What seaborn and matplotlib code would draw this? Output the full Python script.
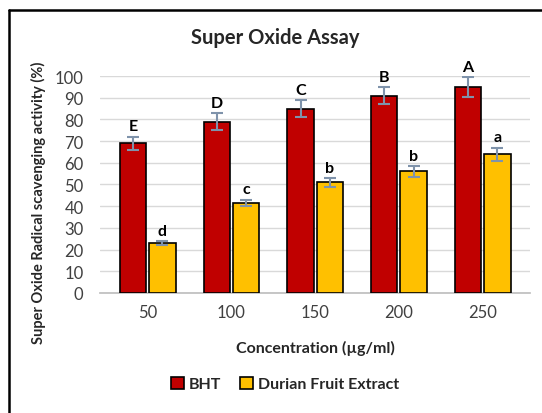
import matplotlib
matplotlib.use("Agg")
import matplotlib.pyplot as plt
from matplotlib.lines import Line2D
import seaborn as sns
import pandas as pd

concentrations = ["50", "100", "150", "200", "250"]
bht_values = [69, 79, 85, 91, 95]
bht_errors = [3, 4, 4, 4, 4.5]
bht_letters = ["E", "D", "C", "B", "A"]
durian_values = [23, 41.5, 51, 56, 64]
durian_errors = [1, 1.5, 2, 2.5, 3]
durian_letters = ["d", "c", "b", "b", "a"]
series_names = ["BHT", "Durian Fruit Extract"]

df = pd.DataFrame({
    "conc": concentrations * 2,
    "value": bht_values + durian_values,
    "series": [series_names[0]] * 5 + [series_names[1]] * 5,
})

sns.set_theme(style="white")
plt.rcParams["font.family"] = ["Lato", "DejaVu Sans"]

fig = plt.figure(figsize=(5.42, 4.14), dpi=100)
# border only shows on the left and top (image is cropped)
bx, by = 9 / 542, 1 - 11 / 414
fig.add_artist(Line2D([bx, 1], [by, by], color="black", lw=1.8,
                      transform=fig.transFigure))
fig.add_artist(Line2D([bx, bx], [0, by], color="black", lw=1.8,
                      transform=fig.transFigure))

ax = fig.add_axes([0.185, 0.29, 0.793, 0.524])

sns.barplot(data=df, x="conc", y="value", hue="series", order=concentrations,
            hue_order=series_names, palette=["#C00000", "#FFC000"],
            saturation=1, width=0.7, gap=0.1, edgecolor="black",
            linewidth=1.2, errorbar=None, ax=ax, zorder=3)

errs = bht_errors + durian_errors
letters = bht_letters + durian_letters
for patch, err, letter in zip(ax.patches[:10], errs, letters):
    xc = patch.get_x() + patch.get_width() / 2
    h = patch.get_height()
    ax.errorbar(xc, h, yerr=err, color="#7F93AB", capsize=4, elinewidth=1.5,
                capthick=1.5, zorder=4)
    ax.text(xc, h + err + 1.5, letter, ha="center", va="bottom",
            fontsize=11.5, fontweight="bold", color="black")

ax.set_ylim(0, 100)
ax.set_yticks(range(0, 101, 10))
ax.yaxis.grid(True, color="#D9D9D9", linewidth=1, zorder=0)
for side in ["top", "right", "left"]:
    ax.spines[side].set_visible(False)
ax.spines["bottom"].set_color("#BFBFBF")
ax.tick_params(axis="both", labelsize=12, length=0, colors="#404040")
ax.tick_params(axis="y", pad=12)
ax.tick_params(axis="x", pad=8)
ax.set_xlabel("Concentration (µg/ml)", fontsize=11.5, fontweight="bold",
              labelpad=14)
ax.set_ylabel("Super Oxide Radical scavenging activity (%)", fontsize=10.5,
              fontweight="bold")
ax.yaxis.set_label_coords(-0.126, 0.42)
fig.suptitle("Super Oxide Assay", x=0.508, y=0.908, va="center",
             fontsize=14.5, fontweight="bold")

leg = ax.legend(loc="upper center", bbox_to_anchor=(0.43, -0.32), ncol=2,
                frameon=False, fontsize=11.5, handlelength=0.8,
                handleheight=0.8, columnspacing=1.2, handletextpad=0.3)
for t in leg.get_texts():
    t.set_fontweight("bold")

fig.savefig("out.png", dpi=100)
